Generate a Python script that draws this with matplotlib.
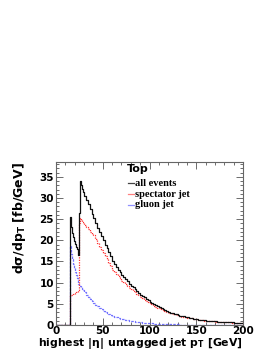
import matplotlib
matplotlib.use("Agg")
import matplotlib.pyplot as plt
from matplotlib.ticker import MultipleLocator
import numpy as np

# bin edges in GeV (1 GeV near threshold, 2 GeV above 30)
edges = [0] + list(range(15, 31)) + list(range(32, 201, 2))

all_events = [0.0,
              25.6, 23.2, 21.8, 20.7, 19.8, 19.1, 18.5, 17.9, 17.3, 16.6,
              26.5, 33.9, 33.0, 32.2, 31.4,
              30.5, 29.5, 28.6, 27.4, 26.3, 25.3, 24.1, 23.0, 22.0, 21.0,
              20.0, 19.0, 18.1, 17.2, 16.3,
              15.0, 14.3, 13.7, 13.1, 12.5, 11.9, 11.4, 10.8, 10.3, 9.8,
              9.3, 8.9, 8.4, 8.0, 7.6, 7.2, 6.85, 6.5, 6.15, 5.8,
              5.5, 5.2, 4.95, 4.7, 4.45, 4.2, 3.97, 3.75, 3.52, 3.3,
              3.1, 2.95, 2.8, 2.65, 2.5, 2.35, 2.24, 2.13, 2.02, 1.91,
              1.8, 1.71, 1.62, 1.53, 1.44, 1.35, 1.29, 1.23, 1.17, 1.11,
              1.05, 1.01, 0.97, 0.93, 0.89, 0.85, 0.82, 0.79, 0.76, 0.73,
              0.7, 0.67, 0.65, 0.62, 0.6, 0.57, 0.55, 0.53, 0.51, 0.5]

spectator = [0.0,
             7.0, 7.1, 7.2, 7.3, 7.4, 7.5, 7.7, 7.9, 8.0, 8.2,
             24.0, 25.2, 24.8, 24.4, 24.0,
             23.6, 23.1, 22.6, 22.0, 21.6, 21.2, 20.2, 19.3, 18.5, 17.7,
             17.0, 16.2, 15.5, 14.7, 14.0,
             13.0, 12.5, 12.0, 11.5, 11.0, 10.5, 10.1, 9.6, 9.2, 8.8,
             8.4, 8.0, 7.7, 7.3, 7.0, 6.6, 6.3, 6.0, 5.7, 5.4,
             5.1, 4.85, 4.6, 4.35, 4.1, 3.9, 3.7, 3.5, 3.3, 3.1,
             2.9, 2.77, 2.63, 2.5, 2.35, 2.2, 2.1, 2.0, 1.9, 1.8,
             1.7, 1.62, 1.54, 1.46, 1.38, 1.3, 1.24, 1.18, 1.12, 1.06,
             1.0, 0.96, 0.93, 0.89, 0.85, 0.82, 0.79, 0.76, 0.73, 0.7,
             0.68, 0.65, 0.62, 0.6, 0.57, 0.55, 0.53, 0.52, 0.5, 0.49]

gluon = [0.0,
         18.6, 16.8, 15.6, 14.5, 13.5, 12.6, 11.8, 11.0, 10.3, 9.6,
         9.2, 9.3, 9.0, 8.6, 8.2,
         7.8, 7.2, 6.7, 6.2, 5.7, 5.3, 4.8, 4.4, 4.0, 3.7,
         3.4, 3.1, 2.8, 2.6, 2.4,
         2.1, 1.95, 1.8, 1.66, 1.52, 1.4, 1.3, 1.2, 1.1, 1.0,
         0.92, 0.85, 0.78, 0.72, 0.66, 0.6, 0.55, 0.51, 0.47, 0.43,
         0.4, 0.37, 0.34, 0.31, 0.28, 0.26, 0.24, 0.22, 0.2, 0.19,
         0.17, 0.16, 0.15, 0.14, 0.13, 0.12, 0.11, 0.1, 0.1, 0.09,
         0.08, 0.08, 0.07, 0.07, 0.07, 0.06, 0.06, 0.06, 0.05, 0.05,
         0.05, 0.05, 0.04, 0.04, 0.04, 0.04, 0.04, 0.03, 0.03, 0.03,
         0.03, 0.03, 0.03, 0.02, 0.02, 0.02, 0.02, 0.02, 0.02, 0.02]


def step_xy(edges, vals):
    x = np.repeat(edges, 2)[1:-1]
    y = np.repeat(vals, 2)
    return x, y


fig = plt.figure(figsize=(2.74, 3.55), dpi=100)
ax = fig.add_axes([0.2044, 0.0845, 0.6826, 0.4592])

x, y = step_xy(edges, gluon)
ax.plot(x, y, color="#5a5aff", lw=0.9, ls=(0, (2, 1)), alpha=0.85)
x, y = step_xy(edges, spectator)
ax.plot(x, y, color="#ff3030", lw=0.9, ls=(0, (1, 1)))
x, y = step_xy(edges, all_events)
ax.plot(x, y, color="#111111", lw=0.9)

ax.set_xlim(0, 200)
ax.set_ylim(0, 38.5)
ax.xaxis.set_major_locator(MultipleLocator(50))
ax.xaxis.set_minor_locator(MultipleLocator(10))
ax.yaxis.set_major_locator(MultipleLocator(5))
ax.yaxis.set_minor_locator(MultipleLocator(1))
ax.tick_params(which="both", direction="in", top=True, right=True,
               color="#555555", width=0.6)
ax.tick_params(which="major", length=5, labelsize=7.5, pad=1.5)
ax.tick_params(axis="x", which="major", pad=0.5)
ax.tick_params(which="minor", length=2.5)
for lab in ax.get_xticklabels() + ax.get_yticklabels():
    lab.set_fontweight("bold")
for sp in ax.spines.values():
    sp.set_color("#666666")
    sp.set_linewidth(0.8)

fig.text(0.887, 1 - 346 / 355, "highest |η| untagged jet p$_\\mathregular{T}$ [GeV]",
         ha="right", va="baseline", fontsize=7.8, fontweight="bold")
fig.text(0.07, 0.543, "dσ/dp$_\\mathregular{T}$ [fb/GeV]",
         ha="center", va="top", rotation=90, fontsize=9, fontweight="bold")

# legend drawn as text like the original
fig.text(127 / 274, 1 - 169 / 355, "Top", ha="left", va="center",
         fontsize=8, fontweight="bold")
names = ["all events", "spectator jet", "gluon jet"]
cols = ["#444444", "#ff8080", "#9090ff"]
for i, (nm, c) in enumerate(zip(names, cols)):
    yy = 1 - (183.3 + i * 10.7) / 355
    fig.add_artist(plt.Line2D([128 / 274, 134 / 274], [yy, yy], color=c,
                              lw=0.9, transform=fig.transFigure))
    fig.text(135 / 274, yy, nm, ha="left", va="center", fontsize=7.5,
             fontweight="bold", family="Liberation Serif")

fig.savefig("out.png", dpi=100)
